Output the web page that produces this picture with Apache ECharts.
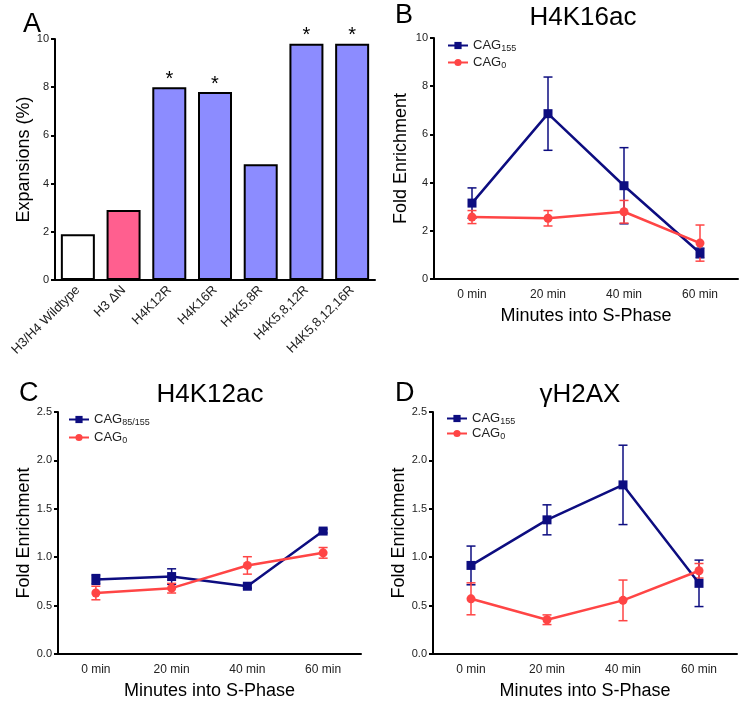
<!DOCTYPE html>
<html><head><meta charset="utf-8">
<script src="https://cdn.jsdelivr.net/npm/echarts@6/dist/echarts.min.js"></script>
<style>html,body{margin:0;padding:0;background:#fff}#c{width:747px;height:704px}</style>
</head><body><div id="c"></div>
<script>
// ---- Panel A data ----
const strains = ['H3/H4 Wildtype', 'H3 \u0394N', 'H4K12R', 'H4K16R', 'H4K5,8R', 'H4K5,8,12R', 'H4K5,8,12,16R'];
const expansions = [1.9, 2.9, 8.0, 7.8, 4.8, 9.8, 9.8];
const significance = ['', '', '*', '*', '', '*', '*'];
const barColors = ['#FFFFFF', '#FF5F8F', '#8C8CFF', '#8C8CFF', '#8C8CFF', '#8C8CFF', '#8C8CFF'];
const yTicksA = [0, 2, 4, 6, 8, 10];

// ---- Time-course panels ----
const timepoints = ['0 min', '20 min', '40 min', '60 min'];
// B: H4K16ac
const h4k16_cag155 = [3.15, 6.86, 3.87, 1.08];
const h4k16_cag155_err = [0.63, 1.52, 1.58, 0.2];
const h4k16_cag0 = [2.57, 2.52, 2.79, 1.49];
const h4k16_cag0_err = [0.27, 0.32, 0.47, 0.75];
// C: H4K12ac
const h4k12_cag85 = [0.77, 0.80, 0.70, 1.27];
const h4k12_cag85_err = [0.05, 0.08, 0.02, 0.02];
const h4k12_cag0 = [0.63, 0.68, 0.915, 1.045];
const h4k12_cag0_err = [0.07, 0.05, 0.09, 0.055];
// D: gammaH2AX
const gh2ax_cag155 = [0.915, 1.386, 1.747, 0.73];
const gh2ax_cag155_err = [0.2, 0.155, 0.41, 0.24];
const gh2ax_cag0 = [0.57, 0.354, 0.554, 0.86];
const gh2ax_cag0_err = [0.165, 0.05, 0.21, 0.075];

const NAVY = '#0D0D80', RED = '#FF4545';
const FONT = 'Liberation Sans, Arial, sans-serif';

const chart = echarts.init(document.getElementById('c'));

function errRender(params, api) {
  const x = api.value(0), lo = api.value(1), hi = api.value(2);
  const p1 = api.coord([x, hi]), p2 = api.coord([x, lo]);
  const w = 4.5;
  const st = { stroke: api.visual('color'), lineWidth: 1.5 };
  return { type: 'group', children: [
    { type: 'line', shape: { x1: p1[0], y1: p1[1], x2: p2[0], y2: p2[1] }, style: st },
    { type: 'line', shape: { x1: p1[0] - w, y1: p1[1], x2: p1[0] + w, y2: p1[1] }, style: st },
    { type: 'line', shape: { x1: p2[0] - w, y1: p2[1], x2: p2[0] + w, y2: p2[1] }, style: st }
  ]};
}
function errData(m, e) { return m.map((v, i) => [i, v - e[i], v + e[i]]); }

const axisLineStyle = { show: true, lineStyle: { color: '#000', width: 2 } };
const tickLabel = { color: '#222', fontSize: 11, fontFamily: FONT };

function timeX(idx) {
  return { type: 'category', gridIndex: idx, data: timepoints, boundaryGap: true,
    axisLine: axisLineStyle, axisTick: { show: false },
    axisLabel: Object.assign({ margin: 10 }, tickLabel, { fontSize: 12 }),
    name: 'Minutes into S-Phase', nameLocation: 'middle', nameGap: 28,
    nameTextStyle: { fontSize: 18, color: '#000', fontFamily: FONT } };
}
function timeY(idx, max, interval, fmt, gap) {
  return { type: 'value', gridIndex: idx, min: 0, max: max, interval: interval,
    splitLine: { show: false }, axisLine: axisLineStyle,
    axisTick: { show: true, length: 4, lineStyle: { color: '#000', width: 2 } },
    axisLabel: Object.assign({ margin: 6, formatter: fmt }, tickLabel),
    name: 'Fold Enrichment', nameLocation: 'middle', nameGap: gap, nameRotate: 90,
    nameTextStyle: { fontSize: 18, color: '#000', fontFamily: FONT } };
}
function lineSeries(name, idx, data, color, symbol) {
  return { type: 'line', name: name, xAxisIndex: idx, yAxisIndex: idx, data: data,
    symbol: symbol, symbolSize: 9,
    lineStyle: { color: color, width: 2.5 }, itemStyle: { color: color }, z: 3 };
}
function errSeries(idx, m, e, color) {
  return { type: 'custom', xAxisIndex: idx, yAxisIndex: idx, renderItem: errRender,
    data: errData(m, e), encode: { x: 0, y: [1, 2] }, itemStyle: { color: color }, z: 2, silent: true };
}
const legendLabels = { 'CAG155': '{m|CAG}{s|155}', 'CAG0': '{m|CAG}{s|0}', 'CAG85/155': '{m|CAG}{s|85/155}' };
function legend(left, top, names, gap) {
  return { orient: 'vertical', left: left, top: top, data: names, itemWidth: 20, itemHeight: 9, itemGap: gap,
    formatter: n => legendLabels[n], selectedMode: false,
    textStyle: { fontFamily: FONT, rich: {
      m: { fontSize: 13, color: '#222', fontFamily: FONT },
      s: { fontSize: 9, color: '#222', fontFamily: FONT, padding: [6, 0, 0, 0] } } } };
}
const letter = (t, l, tp) => ({ text: t, left: l, top: tp, textStyle: { fontSize: 27, fontWeight: 'normal', color: '#000', fontFamily: FONT } });
const ptitle = (t, l, tp) => ({ text: t, left: l, top: tp, textAlign: 'center', textStyle: { fontSize: 26, fontWeight: 'normal', color: '#000', fontFamily: FONT } });

const option = {
  animation: false,
  backgroundColor: '#fff',
  textStyle: { fontFamily: FONT },
  title: [
    letter('A', 18, 6), letter('B', 390, -3), ptitle('H4K16ac', 578, 0),
    letter('C', 14, 375), ptitle('H4K12ac', 205, 377),
    letter('D', 390, 375), ptitle('\u03B3H2AX', 575, 377)
  ],
  legend: [
    legend(442, 34, ['CAG155', 'CAG0'], 3),
    legend(63, 408, ['CAG85/155', 'CAG0'], 4),
    legend(441, 407, ['CAG155', 'CAG0'], 1)
  ],
  grid: [
    { left: 55, top: 39, width: 320, height: 241 },
    { left: 434, top: 38, width: 304, height: 241 },
    { left: 58, top: 412, width: 303, height: 242 },
    { left: 433, top: 412, width: 304, height: 242 }
  ],
  xAxis: [
    { type: 'category', gridIndex: 0, data: strains, axisLine: axisLineStyle, axisTick: { show: false },
      axisLabel: Object.assign({ rotate: 45, margin: 8, interval: 0 }, tickLabel, { fontSize: 13 }) },
    timeX(1), timeX(2), timeX(3)
  ],
  yAxis: [
    { type: 'value', gridIndex: 0, min: yTicksA[0], max: yTicksA[yTicksA.length - 1], interval: 2,
      splitLine: { show: false }, axisLine: axisLineStyle,
      axisTick: { show: true, length: 4, lineStyle: { color: '#000', width: 2 } },
      axisLabel: Object.assign({ margin: 6 }, tickLabel),
      name: 'Expansions (%)', nameLocation: 'middle', nameGap: 20, nameRotate: 90,
      nameTextStyle: { fontSize: 18, color: '#000', fontFamily: FONT } },
    timeY(1, 10, 2, v => v, 24),
    timeY(2, 2.5, 0.5, v => v.toFixed(1), 24),
    timeY(3, 2.5, 0.5, v => v.toFixed(1), 24)
  ],
  series: [
    { type: 'bar', xAxisIndex: 0, yAxisIndex: 0, barWidth: 34,
      data: expansions.map((v, i) => ({ value: v, itemStyle: { color: barColors[i] } })),
      itemStyle: { borderColor: '#000', borderWidth: 2 },
      label: { show: true, position: 'top', distance: -2, fontSize: 20, color: '#000',
        formatter: p => significance[p.dataIndex] } },
    errSeries(1, h4k16_cag155, h4k16_cag155_err, NAVY),
    lineSeries('CAG155', 1, h4k16_cag155, NAVY, 'rect'),
    errSeries(1, h4k16_cag0, h4k16_cag0_err, RED),
    lineSeries('CAG0', 1, h4k16_cag0, RED, 'circle'),
    errSeries(2, h4k12_cag85, h4k12_cag85_err, NAVY),
    lineSeries('CAG85/155', 2, h4k12_cag85, NAVY, 'rect'),
    errSeries(2, h4k12_cag0, h4k12_cag0_err, RED),
    lineSeries('CAG0', 2, h4k12_cag0, RED, 'circle'),
    errSeries(3, gh2ax_cag155, gh2ax_cag155_err, NAVY),
    lineSeries('CAG155', 3, gh2ax_cag155, NAVY, 'rect'),
    errSeries(3, gh2ax_cag0, gh2ax_cag0_err, RED),
    lineSeries('CAG0', 3, gh2ax_cag0, RED, 'circle')
  ]
};
chart.setOption(option);
</script>
</body></html>
